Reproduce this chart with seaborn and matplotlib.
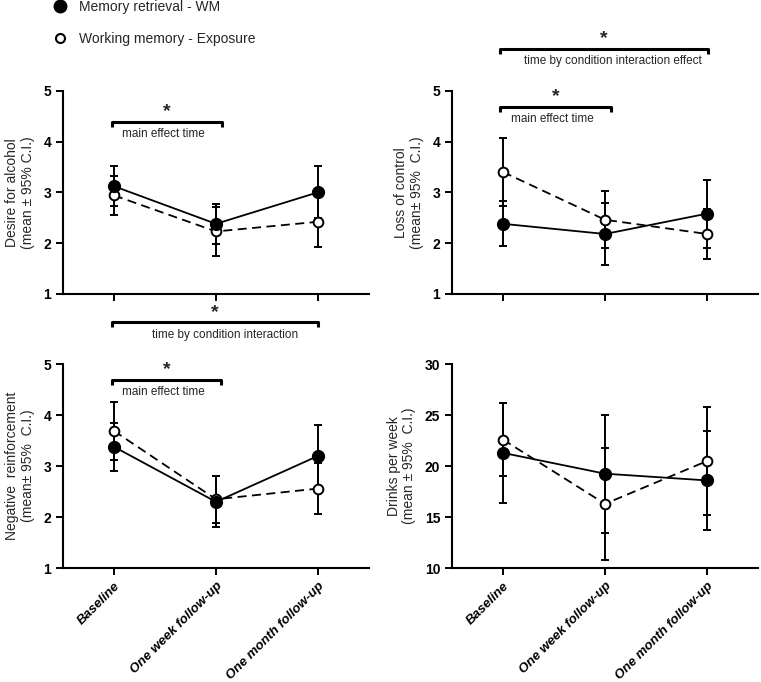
import pandas as pd
import numpy as np
import matplotlib.pyplot as plt
from matplotlib.lines import Line2D
import seaborn as sns

sns.set_style("ticks")
plt.rcParams["font.family"] = ["Liberation Sans", "DejaVu Sans"]

times = ["Baseline", "One week follow-up", "One month follow-up"]
groups = ["Memory retrieval - WM", "Working memory - Exposure"]

# means and 95% CI half-widths
desire_wm = [3.12, 2.38, 3.00]
desire_wm_ci = [0.39, 0.39, 0.51]
desire_exp = [2.94, 2.23, 2.42]
desire_exp_ci = [0.38, 0.49, 0.50]

control_wm = [2.38, 2.18, 2.58]
control_wm_ci = [0.44, 0.61, 0.67]
control_exp = [3.40, 2.46, 2.18]
control_exp_ci = [0.67, 0.56, 0.50]

negrein_wm = [3.38, 2.30, 3.20]
negrein_wm_ci = [0.47, 0.50, 0.61]
negrein_exp = [3.69, 2.35, 2.56]
negrein_exp_ci = [0.57, 0.46, 0.50]

drinks_wm = [21.3, 19.26, 18.6]
drinks_wm_ci = [4.9, 5.8, 4.85]
drinks_exp = [22.6, 16.3, 20.5]
drinks_exp_ci = [3.6, 5.5, 5.3]

ylabels = ["Desire for alcohol\n(mean \u00b1 95% C.I.)",
           "Loss of control\n(mean\u00b1 95%  C.I.)",
           "Negative  reinforcement\n(mean\u00b1 95%  C.I.)",
           "Drinks per week\n(mean \u00b1 95%  C.I.)"]

panels = [
    (desire_wm, desire_wm_ci, desire_exp, desire_exp_ci),
    (control_wm, control_wm_ci, control_exp, control_exp_ci),
    (negrein_wm, negrein_wm_ci, negrein_exp, negrein_exp_ci),
    (drinks_wm, drinks_wm_ci, drinks_exp, drinks_exp_ci),
]
ylims = [(1, 5), (1, 5), (1, 5), (10, 30)]
yticks = [[1, 2, 3, 4, 5]] * 3 + [[10, 15, 20, 25, 30]]

fig = plt.figure(figsize=(7.61, 6.82), dpi=100)
rects = [[0.0828, 0.569, 0.402, 0.298], [0.594, 0.569, 0.402, 0.298],
         [0.0828, 0.167, 0.402, 0.299], [0.594, 0.167, 0.402, 0.299]]
axes = [fig.add_axes(r) for r in rects]
for ax in axes:
    ax.patch.set_alpha(0)

x = np.arange(len(times))
for i, (ax, (wm, wm_ci, ex, ex_ci), yl, lim, yt) in enumerate(
        zip(axes, panels, ylabels, ylims, yticks)):
    df_ex = pd.DataFrame({"time": times, "value": ex})
    df_wm = pd.DataFrame({"time": times, "value": wm})
    ax.errorbar(x, ex, yerr=ex_ci, fmt="none", ecolor="black", elinewidth=1.4,
                capsize=3, capthick=1.4, zorder=2)
    ax.errorbar(x, wm, yerr=wm_ci, fmt="none", ecolor="black", elinewidth=1.4,
                capsize=3, capthick=1.4, zorder=2)
    sns.pointplot(data=df_ex, x="time", y="value", color="black", errorbar=None,
                  linestyles="--", markers="o", ax=ax, linewidth=1.3,
                  markersize=7, markerfacecolor="white", markeredgewidth=1.4,
                  dashes=(5, 3))
    sns.pointplot(data=df_wm, x="time", y="value", color="black", errorbar=None,
                  linestyles="-", markers="o", ax=ax, linewidth=1.3,
                  markersize=8.5, markerfacecolor="black", markeredgewidth=1)
    ax.set_xlim(-0.5, 2.5)
    ax.set_ylim(*lim)
    ax.set_yticks(yt)
    ax.set_xlabel("")
    ax.set_ylabel(yl, fontsize=10, labelpad=6, linespacing=1.15)
    sns.despine(ax=ax)
    for s in ["left", "bottom"]:
        ax.spines[s].set_linewidth(1.5)
        ax.spines[s].set_color("black")
    ax.tick_params(axis="both", direction="out", length=5, width=1.4, colors="black")
    ax.tick_params(axis="y", labelsize=10)
    for t in ax.get_yticklabels():
        t.set_fontweight("bold")
    ax.set_xticks(x)
    if i < 2:
        ax.set_xticklabels([])
    else:
        ax.set_xticklabels(times, rotation=45, ha="right", rotation_mode="anchor",
                           fontsize=9.5, fontstyle="italic", fontweight="bold")


def bracket(ax, x0, x1, y, text, xt, dy_star=0.2, dy_text=0.24, tick=0.1):
    ax.plot([x0, x0, x1, x1], [y - tick, y, y, y - tick], color="black", lw=2.2,
            clip_on=False, solid_capstyle="butt")
    ax.text((x0 + x1) / 2, y + dy_star, "*", ha="center", va="center",
            fontsize=14, fontweight="bold", clip_on=False)
    ax.text(xt, y - dy_text, text, ha="center", va="center", fontsize=8.5,
            clip_on=False)


bracket(axes[0], -0.02, 1.06, 4.39, "main effect time", 0.48)
bracket(axes[1], -0.03, 2.01, 5.82, "time by condition interaction effect", 1.08)
bracket(axes[1], -0.03, 1.06, 4.68, "main effect time", 0.48)
bracket(axes[2], -0.02, 2.0, 5.82, "time by condition interaction", 1.09)
bracket(axes[2], -0.02, 1.05, 4.69, "main effect time", 0.48)

handles = [Line2D([], [], marker="o", ls="none", color="black", markersize=9),
           Line2D([], [], marker="o", ls="none", color="black", markerfacecolor="white",
                  markersize=6.5, markeredgewidth=1.5)]
fig.legend(handles, groups, loc="upper left", bbox_to_anchor=(0.051, 1.018),
           frameon=False, fontsize=10, labelspacing=1.25, handletextpad=0.8,
           handlelength=1.2)

fig.savefig("out.png", dpi=100)
